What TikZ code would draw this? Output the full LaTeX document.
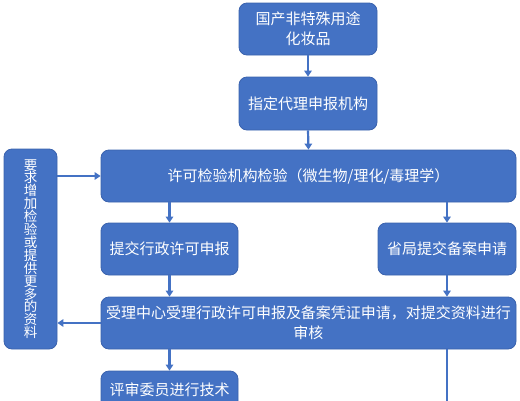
\documentclass[tikz,border=0pt]{standalone}
\usepackage{fontspec}
\setmainfont{Noto Sans CJK SC}
\usetikzlibrary{arrows.meta}
\definecolor{boxblue}{HTML}{4472C4}
\definecolor{boxedge}{HTML}{3A62AD}
\begin{document}
\begin{tikzpicture}[x=1pt,y=-1pt,
  box/.style={draw=boxedge,line width=0.8pt,fill=boxblue,rounded corners=8pt,
    text=white,align=center,inner sep=0pt,font=\fontsize{15}{20}\selectfont},
  conn/.style={draw=boxblue,line width=2.2pt,-{Triangle[length=6pt,width=7.5pt]}},
  plain/.style={draw=boxblue,line width=2.2pt}]
\useasboundingbox (0,0) rectangle (520,400);
\clip (0,0) rectangle (520,400);
\node[box,minimum width=138pt,minimum height=52pt] (n1) at (308,29) {国产非特殊用途\\化妆品};
\node[box,minimum width=138pt,minimum height=53pt] (n2) at (308,103.5) {指定代理申报机构};
\node[box,minimum width=415pt,minimum height=52pt] (n3) at (308.5,176) {许可检验机构检验（微生物/理化/毒理学）};
\node[box,minimum width=53pt,minimum height=200pt,font=\fontsize{13.5}{12.9}\selectfont] (left) at (30.5,249)
  {要\\求\\增\\加\\检\\验\\或\\提\\供\\更\\多\\的\\资\\料};
\node[box,minimum width=137pt,minimum height=52pt] (n4) at (169.5,249) {提交行政许可申报};
\node[box,minimum width=138pt,minimum height=52pt] (n5) at (447,249) {省局提交备案申请};
\node[box,minimum width=415pt,minimum height=52pt] (n6) at (308.5,323) {受理中心受理行政许可申报及备案凭证申请，对提交资料进行\\审核};
\node[box,minimum width=137pt,minimum height=38pt] (n7) at (169.5,390) {评审委员进行技术};
\coordinate (bot) at (447,402);
\path[conn] (n1.south) -- (n2.north);
\path[conn] (n2.south) -- (n3.north);
\path[conn] (n4.north |- n3.south) -- (n4.north);
\path[conn] (n5.north |- n3.south) -- (n5.north);
\path[conn] (n4.south) -- (n4.south |- n6.north);
\path[conn] (n5.south) -- (n5.south |- n6.north);
\path[conn] (n7.north |- n6.south) -- (n7.north);
\path[plain] (bot |- n6.south) -- (bot);
\path[conn] (left.east |- n3.west) -- (n3.west);
\path[conn] (n6.west) -- (left.east |- n6.west);
\end{tikzpicture}
\end{document}
